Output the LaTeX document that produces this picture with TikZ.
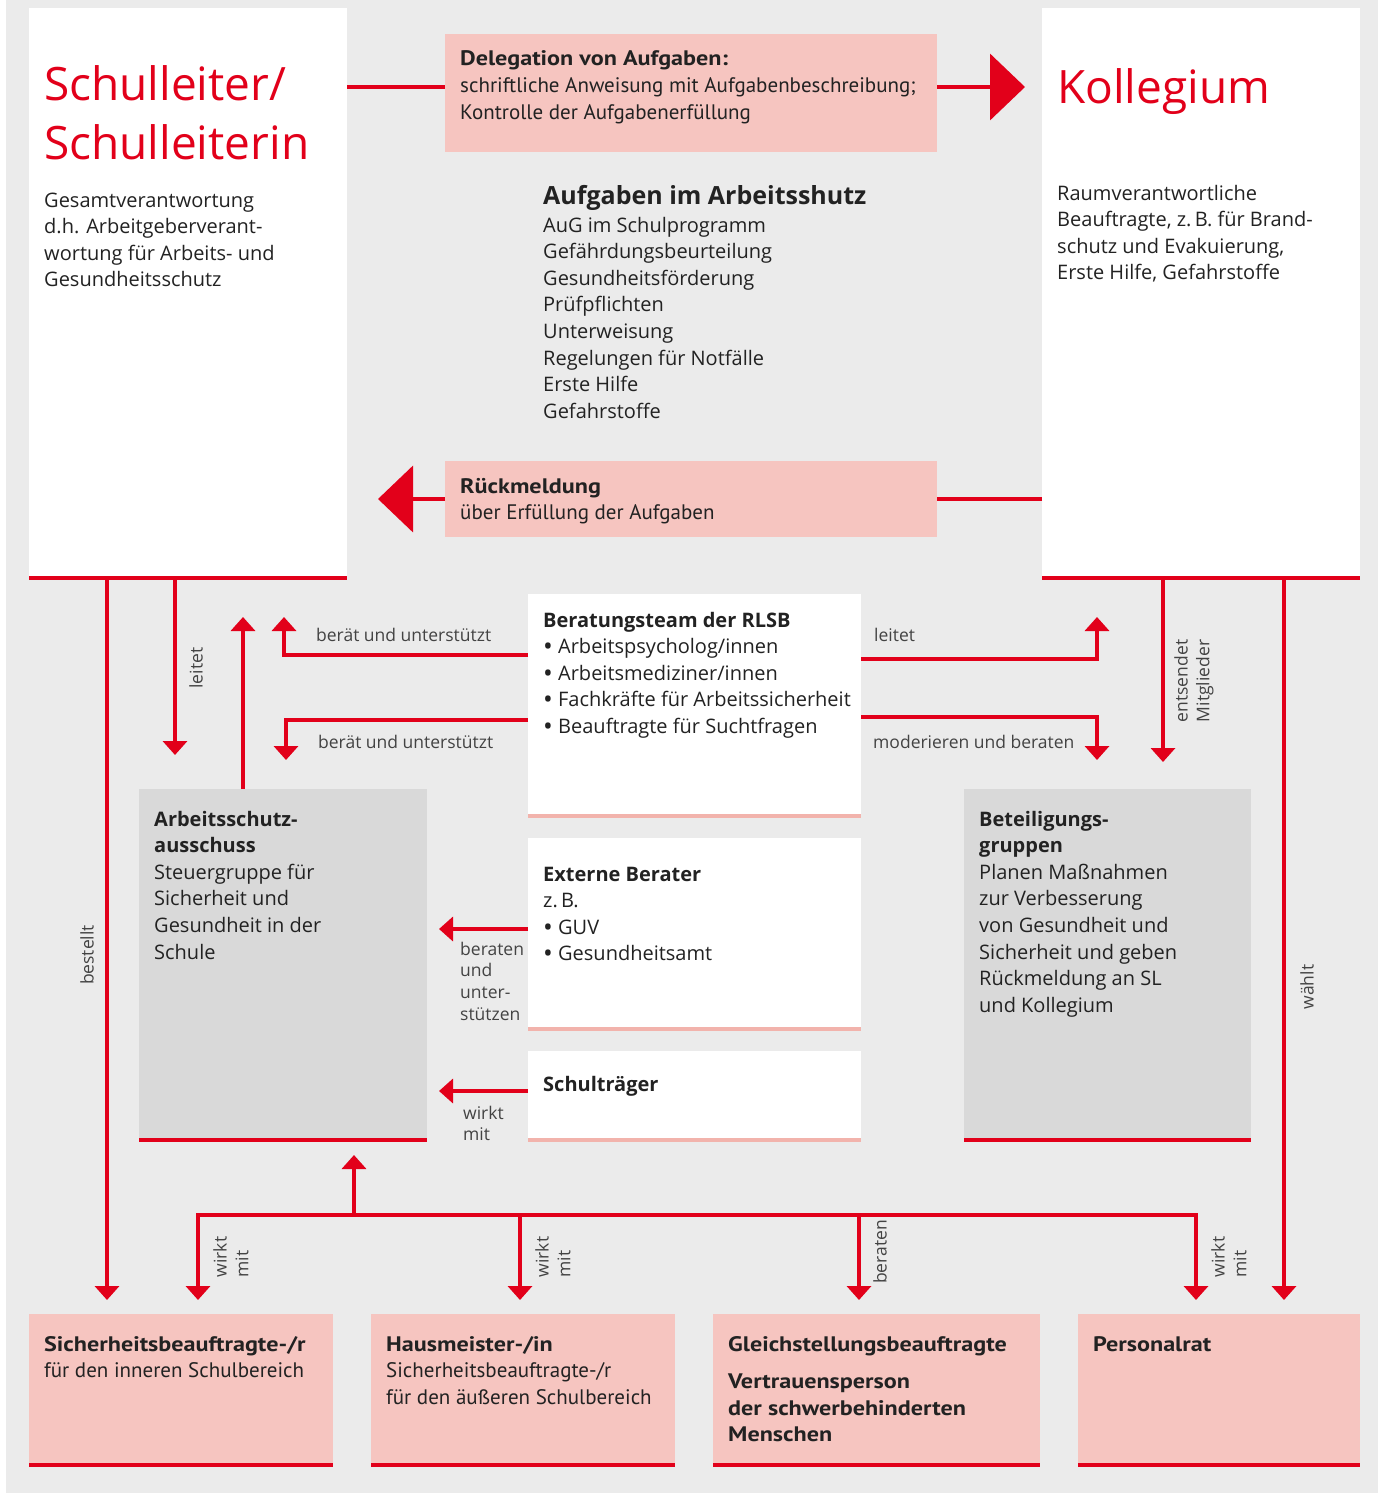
\documentclass[tikz,border=0pt]{standalone}
\usepackage{fontspec}
\setmainfont{Open Sans}
\newfontfamily\cond{PT Sans}
\newfontfamily\condb[FakeStretch=1.15]{PT Sans Bold}
\usetikzlibrary{arrows.meta}
\definecolor{rd}{HTML}{E2001A}
\definecolor{pk}{HTML}{F6C5C0}
\definecolor{bgc}{HTML}{EBEBEB}
\definecolor{gb}{HTML}{D9D9D9}
\definecolor{tx}{HTML}{222222}
\definecolor{pl}{HTML}{F2B3AC}
\newcommand{\bul}{\raisebox{-1.8pt}{\scalebox{1.3}{•}}}
\tikzset{
  box/.style={anchor=north west, inner sep=0pt, outer sep=0pt, draw=none},
  txt/.style={anchor=base west, align=left, inner sep=0pt, text=tx, font=\fontsize{20}{26.6}\selectfont},
  btxt/.style={txt, font=\bfseries\fontsize{20}{26.6}\selectfont},
  ptxt/.style={anchor=base west, align=left, inner sep=0pt, text=tx, font=\cond\fontsize{21}{26.6}\selectfont},
  ttl/.style={anchor=base west, align=left, inner sep=0pt, text=rd, font=\fontsize{46}{59}\selectfont},
  lbl/.style={inner sep=0pt, text=tx!85, font=\fontsize{17.5}{21.7}\selectfont},
  conn/.style={draw=rd, line width=4pt},
  redline/.style={draw=rd, line width=4pt},
  pinkline/.style={draw=pl, line width=4pt},
  arr/.style={conn, -{Triangle[width=24pt,length=14pt]}},
  bigarr/.style={conn, -{Triangle[width=66pt,length=35pt]}}
}
\begin{document}
\begin{tikzpicture}[x=1pt,y=-1pt]
\useasboundingbox (0,0) rectangle (1381,1493);
\fill[bgc] (6,0) rectangle (1378,1493);

% boxes
\node[box, fill=white, minimum width=318pt, minimum height=570pt] (sl) at (29,8) {};
\node[box, fill=white, minimum width=318pt, minimum height=570pt] (kol) at (1042,8) {};
\node[box, fill=pk, minimum width=492pt, minimum height=118pt] (del) at (445,34) {};
\node[box, fill=pk, minimum width=492pt, minimum height=76pt] (rm) at (445,461) {};
\node[box, fill=white, minimum width=333pt, minimum height=222pt] (bt) at (528,594) {};
\node[box, fill=white, minimum width=333pt, minimum height=191pt] (eb) at (528,838) {};
\node[box, fill=white, minimum width=333pt, minimum height=89pt] (st) at (528,1051) {};
\node[box, fill=gb, minimum width=288pt, minimum height=351pt] (asa) at (139,789) {};
\node[box, fill=gb, minimum width=287pt, minimum height=351pt] (bg) at (964,789) {};
\node[box, fill=pk, minimum width=304pt, minimum height=151pt] (b1) at (29,1314) {};
\node[box, fill=pk, minimum width=304pt, minimum height=151pt] (b2) at (371,1314) {};
\node[box, fill=pk, minimum width=327pt, minimum height=151pt] (b3) at (713,1314) {};
\node[box, fill=pk, minimum width=282pt, minimum height=151pt] (b4) at (1078,1314) {};

% bottom lines
\foreach \b in {sl,kol,asa,bg,b1,b2,b3,b4} \draw[redline] (\b.south west) -- (\b.south east);
\foreach \b in {bt,eb,st} \draw[pinkline] (\b.south west) -- (\b.south east);

% texts (anchor = baseline of the last line)
\node[ttl] (tsl) at (44,160) {Schulleiter/\\Schulleiterin};
\node[txt] (tsl2) at (44,286.8) {Gesamtverantwortung\\d.h. Arbeitgeberverant-\\wortung für Arbeits- und\\Gesundheitsschutz};
\node[ttl] (tkol) at (1057,104) {Kollegium};
\node[txt] (tkol2) at (1057,279.8) {Raumverantwortliche\\Beauftragte, z.\,B. für Brand-\\schutz und Evakuierung,\\Erste Hilfe, Gefahrstoffe};
\node[ptxt] (tdel) at (460,119.2) {{\condb Delegation von Aufgaben:}\\schriftliche Anweisung mit Aufgabenbeschreibung;\\Kontrolle der Aufgabenerfüllung};
\node[ptxt] (trm) at (460,519.6) {{\condb Rückmeldung}\\über Erfüllung der Aufgaben};
\node[txt, font=\bfseries\fontsize{25}{26.6}\selectfont] (tauf) at (543,204) {Aufgaben im Arbeitsshutz};
\node[txt] (tauf2) at (543,418.2) {AuG im Schulprogramm\\Gefährdungsbeurteilung\\Gesundheitsförderung\\Prüfpflichten\\Unterweisung\\Regelungen für Notfälle\\Erste Hilfe\\Gefahrstoffe};
\node[txt] (tbt) at (543,733.4) {\textbf{Beratungsteam der RLSB}\\\bul\ Arbeitspsycholog/innen\\\bul\ Arbeitsmediziner/innen\\\bul\ Fachkräfte für Arbeitssicherheit\\\bul\ Beauftragte für Suchtfragen};
\node[txt] (teb) at (543,960.8) {\textbf{Externe Berater}\\z.\,B.\\\bul\ GUV\\\bul\ Gesundheitsamt};
\node[btxt] (tst) at (543,1091) {Schulträger};
\node[txt] (tasa) at (154,959) {\textbf{Arbeitsschutz-}\\\textbf{ausschuss}\\Steuergruppe für\\Sicherheit und\\Gesundheit in der\\Schule};
\node[txt] (tbg) at (979,1012.2) {\textbf{Beteiligungs-}\\\textbf{gruppen}\\Planen Maßnahmen\\zur Verbesserung\\von Gesundheit und\\Sicherheit und geben\\Rückmeldung an SL\\und Kollegium};
\node[ptxt] (tb1) at (44,1377.6) {{\condb Sicherheitsbeauftragte-/r}\\für den inneren Schulbereich};
\node[ptxt] (tb2) at (386,1404.2) {{\condb Hausmeister-/in}\\Sicherheitsbeauftragte-/r\\für den äußeren Schulbereich};
\node[ptxt, font=\condb\fontsize{21}{26.6}\selectfont] (tb3) at (728,1441.8) {Gleichstellungsbeauftragte\\[11pt]Vertrauensperson\\der schwerbehinderten\\Menschen};
\node[ptxt, font=\condb\fontsize{21}{26.6}\selectfont] (tb4) at (1093,1351) {Personalrat};

% coordinates
\coordinate (dy) at (0,87);
\coordinate (dtip) at (1025,87);
\coordinate (ry) at (0,499);
\coordinate (rtip) at (378,499);
\coordinate (tipB) at (107,1300);
\coordinate (tipL) at (175,755);
\coordinate (tipU) at (243,617);
\coordinate (tipBT) at (284,617);
\coordinate (tipBB) at (286,760);
\coordinate (tipRT) at (1097,617);
\coordinate (tipRB) at (1097,760);
\coordinate (tipE) at (1163,762);
\coordinate (tipW) at (1284,1300);
\coordinate (tipEB) at (439,929);
\coordinate (tipST) at (439,1091);
\coordinate (busM) at (354,1215);
\coordinate (tipUp) at (354,1155);
\coordinate (tip1) at (198,1300);
\coordinate (tip2) at (520,1300);
\coordinate (tip3) at (859,1300);
\coordinate (tip4) at (1196,1300);

% connectors
\draw[conn] (sl.east |- dy) -- (del.west |- dy);
\draw[bigarr] (del.east |- dy) -- (dtip);
\draw[conn] (kol.west |- ry) -- (rm.east |- ry);
\draw[bigarr] (rm.west |- ry) -- (rtip);
\draw[arr] (sl.south -| tipB) -- (tipB);
\draw[arr] (sl.south -| tipL) -- (tipL);
\draw[arr] (asa.north -| tipU) -- (tipU);
\draw[arr] (bt.west |- 0,655) -| (tipBT);
\draw[arr] (bt.west |- 0,720) -| (tipBB);
\draw[arr] (bt.east |- 0,659) -| (tipRT);
\draw[arr] (bt.east |- 0,717) -| (tipRB);
\draw[arr] (kol.south -| tipE) -- (tipE);
\draw[arr] (kol.south -| tipW) -- (tipW);
\draw[arr] (eb.west |- tipEB) -- (tipEB);
\draw[arr] (st.west |- tipST) -- (tipST);
\draw[arr] (busM) -- (tipUp);
\draw[arr] (busM) -| (tip1);
\draw[arr] (busM) -| (tip4);
\draw[arr] (tip2 |- busM) -- (tip2);
\draw[arr] (tip3 |- busM) -- (tip3);

% labels
\node[lbl, rotate=90] (lbest) at (87,955) {bestellt};
\node[lbl, rotate=90] (lleit) at (196,668) {leitet};
\node[lbl, anchor=base west] (lbu1) at (316,641) {berät und unterstützt};
\node[lbl, anchor=base west] (lbu2) at (318,748) {berät und unterstützt};
\node[lbl, anchor=base west] (lleit2) at (874,641) {leitet};
\node[lbl, anchor=base west] (lmod) at (873,748) {moderieren und beraten};
\node[lbl, rotate=90, align=left] (lent) at (1194,681) {entsendet\\Mitglieder};
\node[lbl, rotate=90] (lwae) at (1307,987) {wählt};
\node[lbl, anchor=base west, align=left] (lbun) at (460,1020.1) {beraten\\und\\unter-\\stützen};
\node[lbl, anchor=base west, align=left] (lwm) at (463,1140.7) {wirkt\\mit};
\node[lbl, rotate=90, align=left] (lw1) at (231,1257) {wirkt\\mit};
\node[lbl, rotate=90, align=left] (lw2) at (553,1257) {wirkt\\mit};
\node[lbl, rotate=90] (lber) at (880,1252) {beraten};
\node[lbl, rotate=90, align=left] (lw4) at (1229,1257) {wirkt\\mit};
\end{tikzpicture}
\end{document}
